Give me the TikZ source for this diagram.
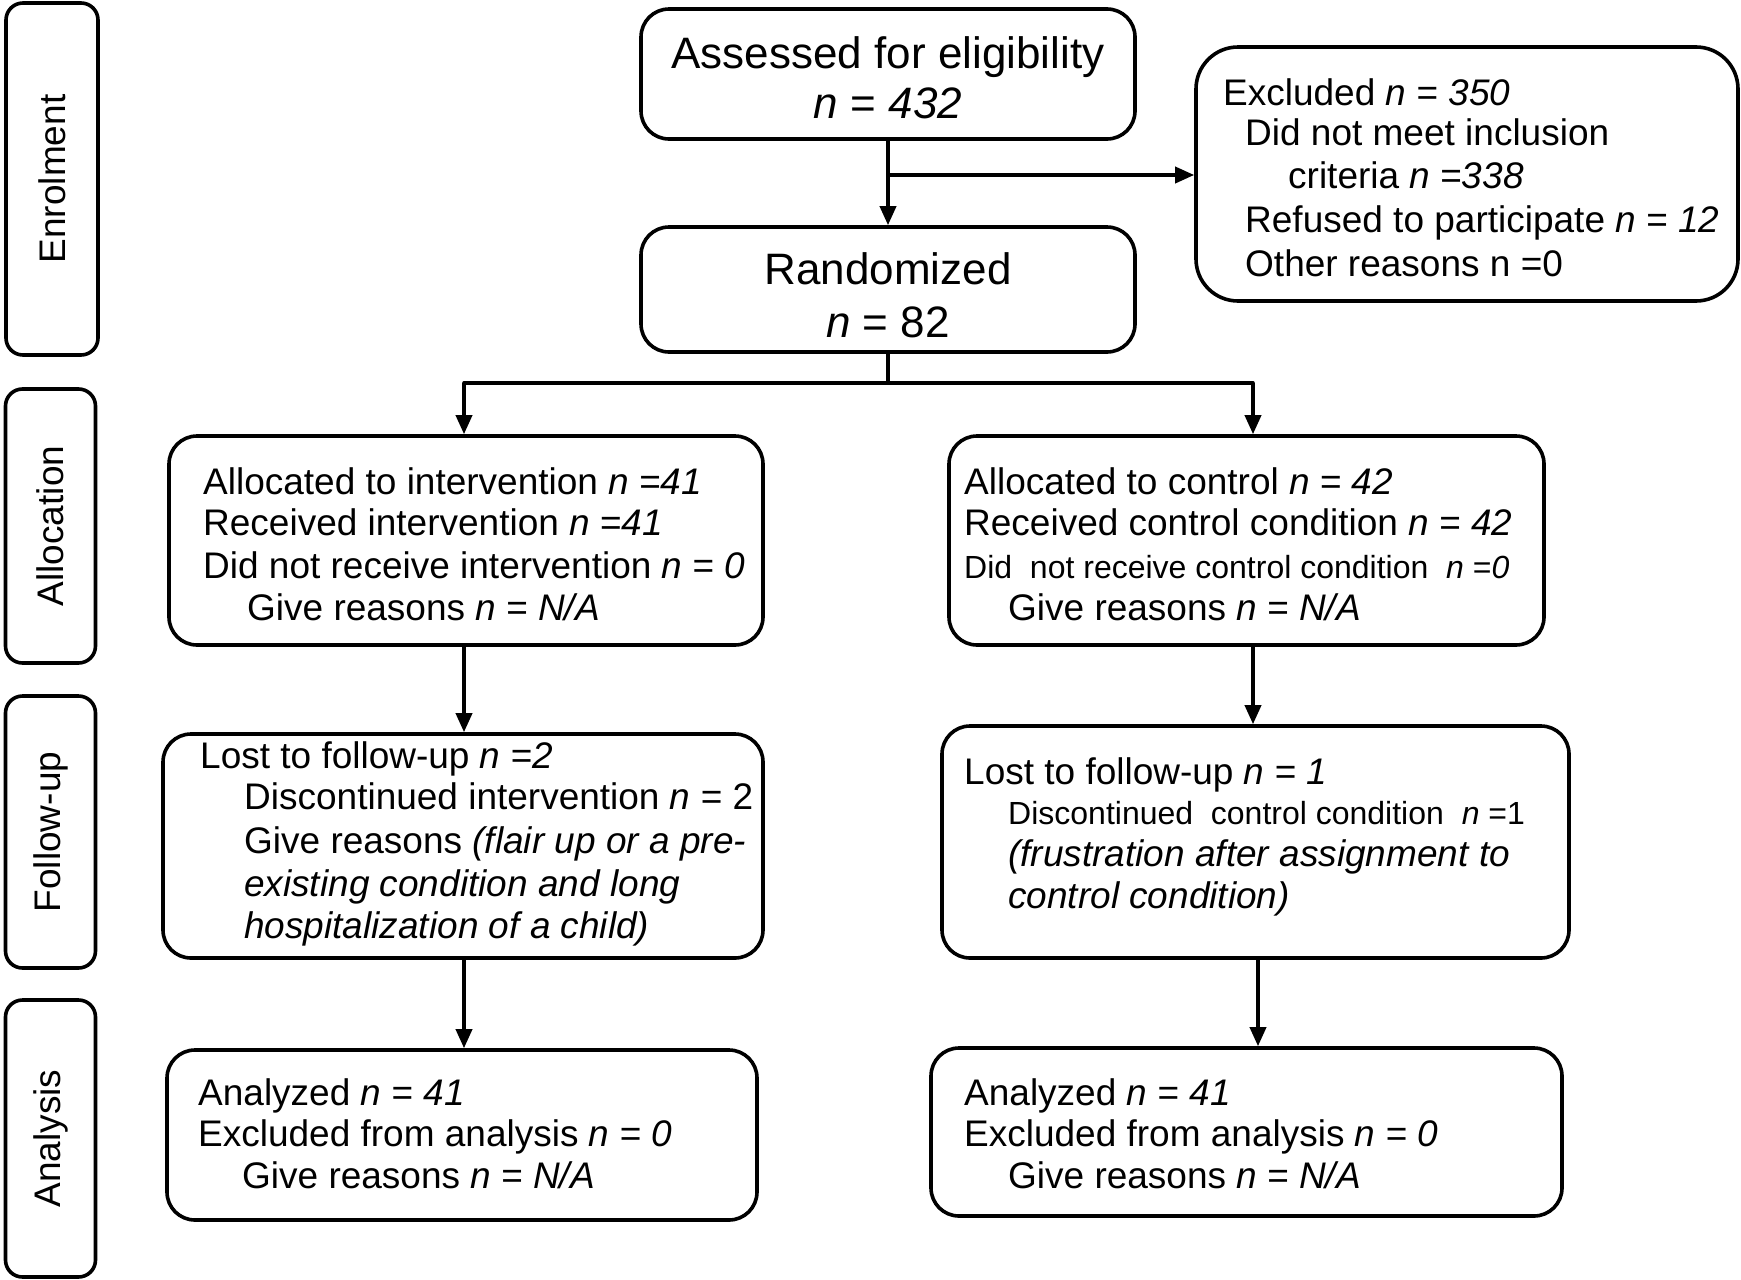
\documentclass[tikz,border=0pt]{standalone}
\usepackage{fontspec}
\setmainfont{Liberation Sans}
\usetikzlibrary{arrows.meta,calc}
\begin{document}
\begin{tikzpicture}[x=1pt,y=-1pt,
  box/.style={draw=black,line width=3.6pt,rounded corners=28pt,inner sep=0pt,minimum width=#1},
  side/.style={draw=black,line width=3.6pt,rounded corners=17pt,inner sep=0pt,rotate=90,font=\fontsize{37}{43}\selectfont},
  txt/.style={inner sep=0pt,anchor=base west,font=\fontsize{37}{43}\selectfont},
  small/.style={inner sep=0pt,anchor=base west,font=\fontsize{32}{38}\selectfont},
  big/.style={inner sep=0pt,anchor=base,font=\fontsize{44}{50}\selectfont},
  arr/.style={line width=3.6pt,-{Triangle[length=19pt,width=16pt]}},
  ln/.style={line width=3.6pt}]
\useasboundingbox (0,0) rectangle (1741,1280);
\newcommand\tline[4]{\node[txt] (#1) at (#2,#3) {#4};}
\newcommand\sline[4]{\node[small] (#1) at (#2,#3) {#4};}

% side boxes
\node[side,minimum width=352pt,minimum height=92pt] (sEnr) at (52,179) {Enrolment};
\node[side,minimum width=274pt,minimum height=90pt] (sAll) at (50.5,526) {Allocation};
\node[side,minimum width=272pt,minimum height=90pt] (sFol) at (50.5,832) {Follow-up};
\node[side,minimum width=277pt,minimum height=90pt] (sAna) at (50.5,1138.5) {Analysis};

% boxes
\node[box=494pt,minimum height=130pt] (assess) at (888,74) {};
\node[box=542pt,minimum height=254pt,rounded corners=42pt] (excl) at (1467,174) {};
\node[box=494pt,minimum height=125pt] (rand) at (888,289.5) {};
\node[box=594pt,minimum height=209pt] (allocL) at (466,540.5) {};
\node[box=595pt,minimum height=209pt] (allocR) at (1246.5,540.5) {};
\node[box=600pt,minimum height=224pt] (fuL) at (463,846) {};
\node[box=627pt,minimum height=232pt] (fuR) at (1255.5,842) {};
\node[box=590pt,minimum height=170pt] (anL) at (462,1135) {};
\node[box=631pt,minimum height=168pt] (anR) at (1246.5,1132) {};

% top texts
\node[big] (t1) at (888,68) {Assessed for eligibility};
\node[big] (t2) at (888,118) {\textit{n} = \textit{432}};
\node[big] (t3) at (888,284) {Randomized};
\node[big] (t4) at (888,337) {\textit{n} = 82};

% excluded
\tline{e1}{1223}{105}{Excluded \textit{n} = \textit{350}}
\tline{e2}{1245}{145}{Did not meet inclusion}
\tline{e3}{1288}{188}{criteria \textit{n} =\textit{338}}
\tline{e4}{1245}{232}{Refused to participate \textit{n} = \textit{12}}
\tline{e5}{1245}{276}{Other reasons n =0}

% allocation left
\tline{a1}{203}{494}{Allocated to intervention \textit{n} =\textit{41}}
\tline{a2}{203}{535}{Received intervention \textit{n} =\textit{41}}
\tline{a3}{203}{578}{Did not receive intervention \textit{n} = \textit{0}}
\tline{a4}{247}{620}{Give reasons \textit{n} = \textit{N/A}}

% allocation right
\tline{b1}{964}{494}{Allocated to control \textit{n} = \textit{42}}
\tline{b2}{964}{535}{Received control condition \textit{n} = \textit{42}}
\sline{b3}{964}{578}{Did\ \ not receive control condition\ \ \textit{n} =\textit{0}}
\tline{b4}{1008}{620}{Give reasons \textit{n} = \textit{N/A}}

% follow-up left
\tline{c1}{200}{768}{Lost to follow-up \textit{n} =\textit{2}}
\tline{c2}{244}{809}{Discontinued intervention \textit{n} = 2}
\tline{c3}{244}{853}{Give reasons \textit{(flair up or a pre-}}
\tline{c4}{244}{896}{\textit{existing condition and long}}
\tline{c5}{244}{938}{\textit{hospitalization of a child)}}

% follow-up right
\tline{d1}{964}{784}{Lost to follow-up \textit{n} = \textit{1}}
\sline{d2}{1008}{824}{Discontinued\ \ control condition\ \ \textit{n} =1}
\tline{d3}{1008}{866}{\textit{(frustration after assignment to}}
\tline{d4}{1008}{908}{\textit{control condition)}}

% analysis left
\tline{f1}{198}{1105}{Analyzed \textit{n} = \textit{41}}
\tline{f2}{198}{1146}{Excluded from analysis \textit{n} = \textit{0}}
\tline{f3}{242}{1188}{Give reasons \textit{n} = \textit{N/A}}

% analysis right
\tline{g1}{964}{1105}{Analyzed \textit{n} = \textit{41}}
\tline{g2}{964}{1146}{Excluded from analysis \textit{n} = \textit{0}}
\tline{g3}{1008}{1188}{Give reasons \textit{n} = \textit{N/A}}

% connectors
\coordinate (j1) at (888,175);
\draw[arr] (assess.south) -- (rand.north);
\draw[arr] (j1) -- (j1 -| excl.west);
\coordinate (j2) at (888,383);
\coordinate (cL) at (464,383);
\coordinate (cR) at (1253,383);
\draw[ln] (rand.south) -- (j2);
\draw[ln,line join=round,line cap=round] (cL) -- (cR);
\draw[arr] (cL) -- (cL |- allocL.north);
\draw[arr] (cR) -- (cR |- allocR.north);
\coordinate (kL) at (464,0);
\coordinate (kR) at (1253,0);
\coordinate (mR) at (1258,0);
\draw[arr] (kL |- allocL.south) -- (kL |- fuL.north);
\draw[arr] (kR |- allocR.south) -- (kR |- fuR.north);
\draw[arr] (kL |- fuL.south) -- (kL |- anL.north);
\draw[arr] (mR |- fuR.south) -- (mR |- anR.north);
\end{tikzpicture}
\end{document}
